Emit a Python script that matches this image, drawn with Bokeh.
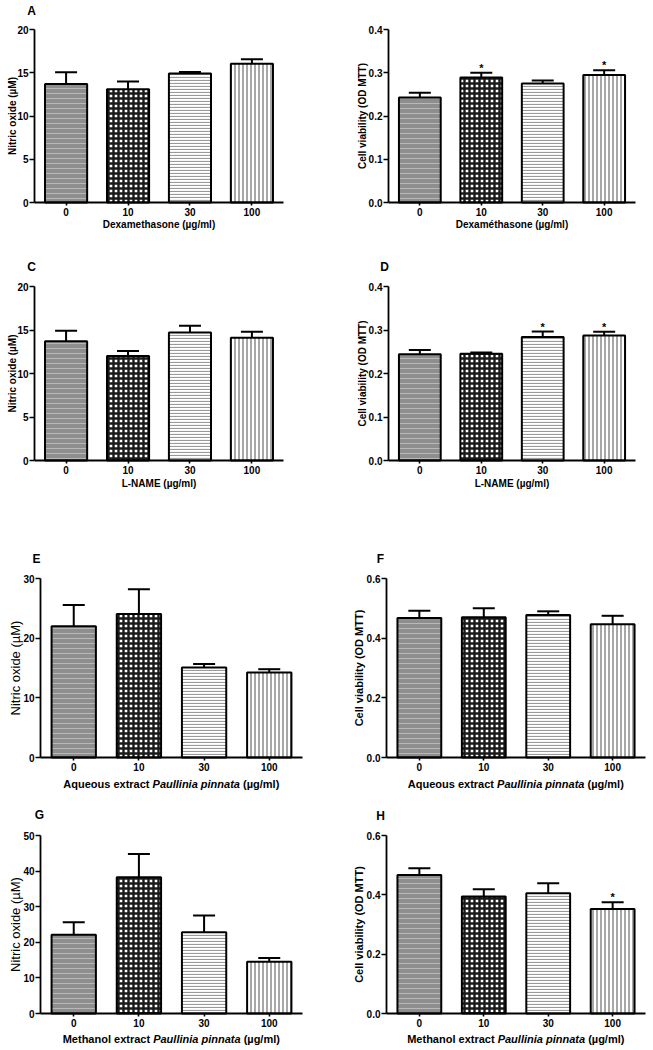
from bokeh.plotting import figure
from bokeh.layouts import column, row
from bokeh.models import (ColumnDataSource, Whisker, TeeHead, Label, FixedTicker,
                          NumeralTickFormatter, Range1d)
from bokeh.embed import file_html
from bokeh.resources import INLINE

# ---------------- data ----------------
doses = ["0", "10", "30", "100"]

a_mean = [13.7, 13.1, 14.9, 16.05]
a_sem = [1.35, 0.9, 0.2, 0.5]
a_star = [0, 0, 0, 0]

b_mean = [0.243, 0.289, 0.275, 0.295]
b_sem = [0.011, 0.011, 0.007, 0.011]
b_star = [0, 1, 0, 1]

c_mean = [13.7, 12.0, 14.7, 14.1]
c_sem = [1.2, 0.6, 0.8, 0.7]
c_star = [0, 0, 0, 0]

d_mean = [0.244, 0.2455, 0.284, 0.2875]
d_sem = [0.010, 0.003, 0.0125, 0.0085]
d_star = [0, 0, 1, 1]

e_mean = [22.0, 24.05, 15.1, 14.25]
e_sem = [3.55, 4.15, 0.55, 0.55]
e_star = [0, 0, 0, 0]

f_mean = [0.468, 0.470, 0.478, 0.447]
f_sem = [0.024, 0.030, 0.012, 0.028]
f_star = [0, 0, 0, 0]

g_mean = [22.1, 38.25, 22.85, 14.55]
g_sem = [3.5, 6.55, 4.65, 1.05]
g_star = [0, 0, 0, 0]

h_mean = [0.467, 0.394, 0.405, 0.352]
h_sem = [0.023, 0.025, 0.034, 0.023]
h_star = [0, 0, 0, 1]

no_ticks_20 = [0, 5, 10, 15, 20]
no_ticks_30 = [0, 10, 20, 30]
no_ticks_50 = [0, 10, 20, 30, 40, 50]
cv_ticks_04 = [0.0, 0.1, 0.2, 0.3, 0.4]
cv_ticks_06 = [0.0, 0.2, 0.4, 0.6]

no_label = "Nitric oxide (µM)"
cv_label = "Cell viability (OD MTT)"

# ---------------- styles ----------------
FONT = "Liberation Sans"
fills = ["#8e8e8e", "#ffffff", "#ffffff", "#ffffff"]
hatches = ["horizontal_line", "cross", "horizontal_line", "vertical_line"]
hatch_colors = ["#b8b8b8", "#1a1a1a", "#9a9a9a", "#8a8a8a"]
hatch_scales = [5, 5, 3, 4]
hatch_weights = [1, 2.4, 1.2, 1.5]
X0, X1 = -0.51, 3.51

# Arial/Liberation bold advance widths (per 1000 em)
BW = {'A': 722, 'q': 611, 'u': 611, 'e': 556, 'o': 611, 's': 556, ' ': 278, 'x': 556,
      't': 333, 'r': 389, 'a': 556, 'c': 556, 'P': 667, 'l': 278, 'i': 278, 'n': 611,
      'p': 611, '(': 333, 'µ': 611, 'g': 611, '/': 278, 'm': 889, ')': 333, 'M': 833,
      'h': 611}


def tw(s, size):
    return sum(BW.get(ch, 556) for ch in s) * size / 1000.0


def make_panel(mean, sem, star, yticks, decimal, ylab, ylab_style, letter,
               xtitle, geom_x, geom_y):
    left, fw, right = geom_x
    top, fh, bottom = geom_y
    ymax = yticks[-1]
    kx = fw / (X1 - X0)
    ky = fh / ymax
    p = figure(width=left + fw + right, height=top + fh + bottom,
               output_backend="svg", toolbar_location=None, tools="",
               x_range=Range1d(X0 - left / kx, X1 + right / kx),
               y_range=Range1d(-bottom / ky, ymax + top / ky),
               min_border_left=0, min_border_right=0,
               min_border_top=0, min_border_bottom=0)
    p.outline_line_color = None
    p.xgrid.visible = False
    p.ygrid.visible = False
    p.background_fill_color = "white"
    p.border_fill_color = "white"

    for ax in (p.xaxis[0], p.yaxis[0]):
        ax.axis_line_width = 1.8
        ax.axis_line_color = "black"
        ax.major_tick_line_width = 1.6
        ax.major_tick_line_color = "black"
        ax.major_tick_in = 0
        ax.minor_tick_line_color = None
        ax.major_label_text_font = FONT
        ax.major_label_text_font_style = "bold"
        ax.major_label_text_font_size = "10px"
        ax.major_label_text_color = "black"
    p.yaxis.fixed_location = X0
    p.xaxis.fixed_location = 0
    p.yaxis.bounds = (0, ymax)
    p.xaxis.bounds = (X0, X1)
    p.yaxis.major_tick_out = 5
    p.yaxis.major_label_standoff = 1
    p.xaxis.major_tick_out = 3
    p.xaxis.major_label_standoff = 2
    p.xaxis.ticker = FixedTicker(ticks=list(range(len(doses))))
    p.xaxis.major_label_overrides = {i: d for i, d in enumerate(doses)}
    p.yaxis.ticker = FixedTicker(ticks=yticks)
    if decimal:
        p.yaxis.formatter = NumeralTickFormatter(format="0.0")

    xs = list(range(len(doses)))
    upper = [m + s for m, s in zip(mean, sem)]
    src = ColumnDataSource(dict(x=xs, mean=mean, upper=upper, fill=fills,
                                hatch=hatches, hcol=hatch_colors,
                                hscale=hatch_scales, hw=hatch_weights))
    wh = Whisker(base="x", lower="mean", upper="upper", source=src,
                 dimension="height", line_width=2, line_color="black",
                 upper_head=TeeHead(size=22, line_width=2, line_color="black"),
                 lower_head=None)
    p.add_layout(wh)
    p.vbar(x="x", top="mean", bottom=0, width=0.68, source=src,
           fill_color="fill", line_color="black", line_width=2,
           hatch_pattern="hatch", hatch_color="hcol", hatch_scale="hscale",
           hatch_weight="hw")

    for i, s in enumerate(star):
        if s:
            p.add_layout(Label(x=xs[i], y=upper[i], y_offset=5, text="*",
                               text_align="center", text_baseline="alphabetic",
                               text_font=FONT, text_font_style="bold",
                               text_font_size="11px", text_color="black"))

    # y-axis title
    yl_off, yl_size, yl_style = ylab_style
    p.add_layout(Label(x=X0, y=ymax / 2.0, x_offset=yl_off, text=ylab,
                       angle=90, angle_units="deg", text_align="center",
                       text_baseline="middle", text_font=FONT,
                       text_font_style=yl_style, text_font_size=yl_size,
                       text_color="black"))
    # panel letter
    if letter:
        ltext, lx, ly = letter
        p.add_layout(Label(x=X0, y=ymax, x_offset=lx, y_offset=ly, text=ltext,
                           text_align="center", text_baseline="middle",
                           text_font=FONT, text_font_style="bold",
                           text_font_size="12px", text_color="black"))
    # x-axis title
    parts, size, xoff_y = xtitle
    xc = (X0 + X1) / 2.0
    if len(parts) == 1:
        p.add_layout(Label(x=xc, y=0, y_offset=xoff_y, text=parts[0][0],
                           text_align="center", text_baseline="middle",
                           text_font=FONT, text_font_style=parts[0][1],
                           text_font_size="%dpx" % size, text_color="black"))
    else:
        sp = tw(" ", size)
        widths = [tw(t, size) for t, _ in parts]
        total = sum(widths) + sp * (len(parts) - 1)
        pos = -total / 2.0
        for (t, st), w in zip(parts, widths):
            p.add_layout(Label(x=xc, y=0, x_offset=pos, y_offset=xoff_y,
                               text=t, text_align="left", text_baseline="middle",
                               text_font=FONT, text_font_style=st,
                               text_font_size="%dpx" % size, text_color="black"))
            pos += w + sp
    return p


# geometry (left, frame width, right) / (top, frame height, bottom), page px
LX1 = (34, 249, 43)
LX2 = (40, 262, 24)
RX1 = (62, 247, 17)
RX2 = (60, 259, 7)
R1 = (29, 173, 38)
R2 = (46, 174, 40)
R3 = (78, 179, 38)
R4 = (40, 178, 35)

dexa_l = ([("Dexamethasone (µg/ml)", "bold")], 10, -22)
dexa_r = ([("Dexaméthasone (µg/ml)", "bold")], 10, -22)
lname = ([("L-NAME (µg/ml)", "bold")], 10, -23)
aq = ([("Aqueous extract", "bold"), ("Paullinia pinnata", "bold italic"),
       ("(µg/ml)", "bold")], 11, -26)
me = ([("Methanol extract", "bold"), ("Paullinia pinnata", "bold italic"),
       ("(µg/ml)", "bold")], 11, -25)

pA = make_panel(a_mean, a_sem, a_star, no_ticks_20, False, no_label,
                (-22, "10px", "bold"), ("A", -3, 19), dexa_l, LX1, R1)
pB = make_panel(b_mean, b_sem, b_star, cv_ticks_04, True, cv_label,
                (-26, "10px", "bold"), None, dexa_r, RX1, R1)
pC = make_panel(c_mean, c_sem, c_star, no_ticks_20, False, no_label,
                (-22, "10px", "bold"), ("C", -3, 20), lname, LX1, R2)
pD = make_panel(d_mean, d_sem, d_star, cv_ticks_04, True, cv_label,
                (-26, "10px", "bold"), ("D", -4, 20), lname, RX1, R2)
pE = make_panel(e_mean, e_sem, e_star, no_ticks_30, False, no_label,
                (-25, "13px", "normal"), ("E", -4, 20), aq, LX2, R3)
pF = make_panel(f_mean, f_sem, f_star, cv_ticks_06, True, cv_label,
                (-28, "11px", "bold"), ("F", -6, 20), aq, RX2, R3)
pG = make_panel(g_mean, g_sem, g_star, no_ticks_50, False, no_label,
                (-25, "13px", "normal"), ("G", -1, 21), me, LX2, R4)
pH = make_panel(h_mean, h_sem, h_star, cv_ticks_06, True, cv_label,
                (-28, "11px", "bold"), ("H", -6, 20), me, RX2, R4)

layout = column(row(pA, pB), row(pC, pD), row(pE, pF), row(pG, pH))
open("out.html", "w").write(file_html(layout, INLINE))
